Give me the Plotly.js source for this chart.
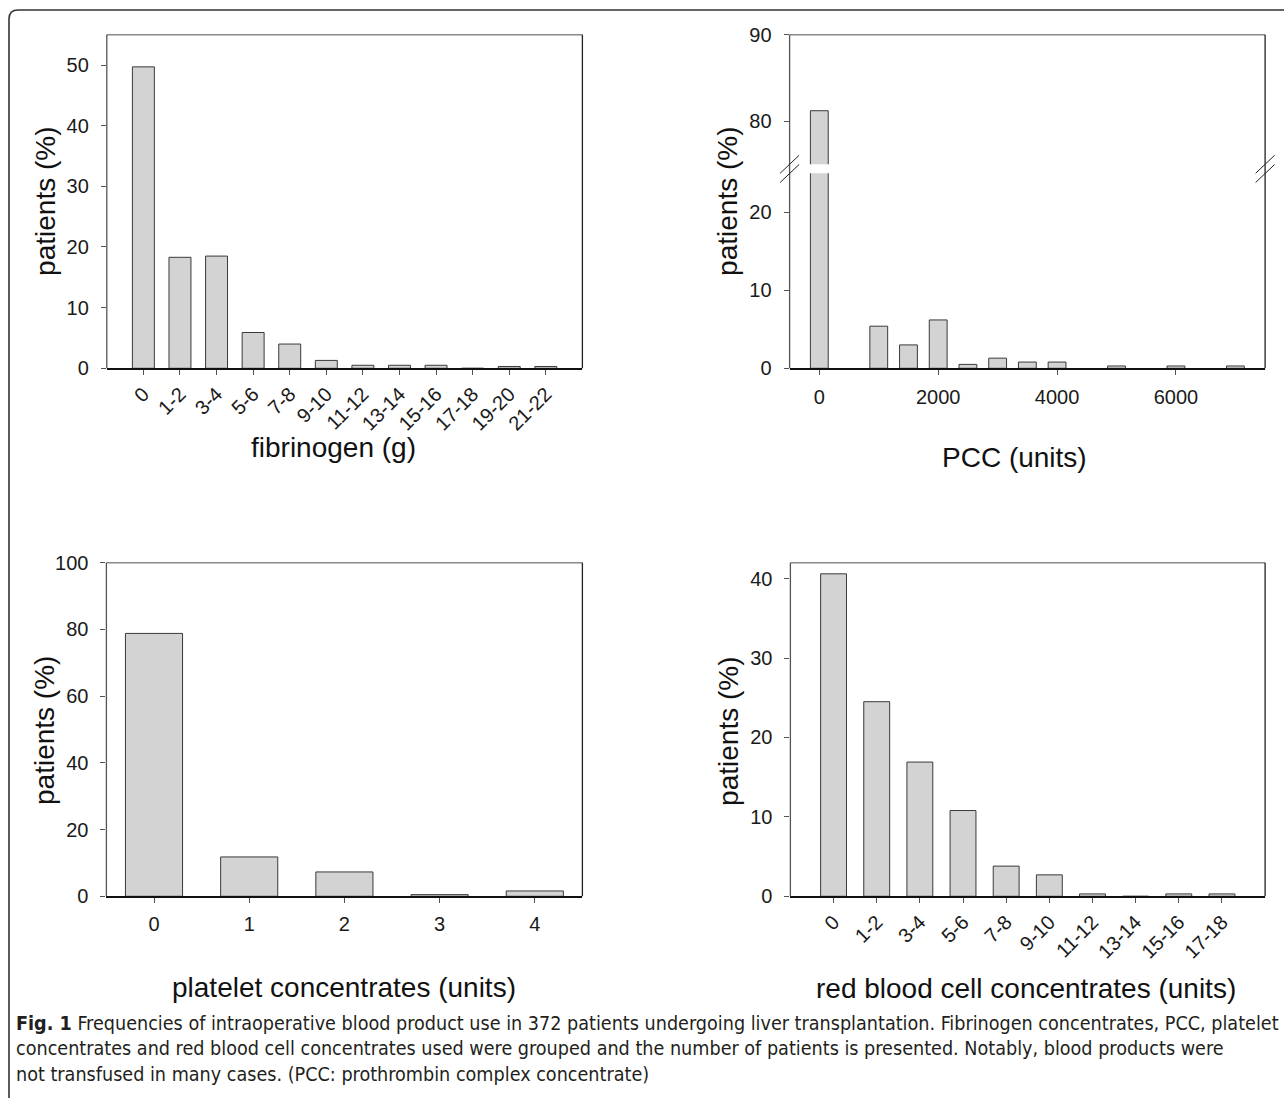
<!DOCTYPE html>
<html>
<head>
<meta charset="utf-8">
<script src="https://cdn.plot.ly/plotly-3.0.1.min.js"></script>
<style>html,body{margin:0;padding:0;background:#fff;}#chart{width:1284px;height:1098px;}</style>
</head>
<body>
<div id="chart"></div>
<script>
// ---- data ----
const fibCats = ['0','1-2','3-4','5-6','7-8','9-10','11-12','13-14','15-16','17-18','19-20','21-22'];
const fibPct = [49.7, 18.3, 18.5, 5.9, 4.0, 1.3, 0.5, 0.5, 0.5, 0, 0.3, 0.3];
const pccUnits = [0, 1000, 1500, 2000, 2500, 3000, 3500, 4000, 5000, 6000, 7000];
const pccPct = [81.2, 5.4, 3.0, 6.2, 0.5, 1.3, 0.8, 0.8, 0.3, 0.3, 0.3];
const pccTicks = [0, 2000, 4000, 6000];
const pltCats = ['0','1','2','3','4'];
const pltPct = [78.8, 11.8, 7.3, 0.5, 1.6];
const rbcCats = ['0','1-2','3-4','5-6','7-8','9-10','11-12','13-14','15-16','17-18'];
const rbcPct = [40.6, 24.5, 16.9, 10.8, 3.8, 2.7, 0.3, 0, 0.3, 0.3];
const yTitle = 'patients (%)';
const xTitles = ['fibrinogen (g)', 'PCC (units)', 'platelet concentrates (units)', 'red blood cell concentrates (units)'];
const captionLines = [
  '<b>Fig. 1</b> Frequencies of intraoperative blood product use in 372 patients undergoing liver transplantation. Fibrinogen concentrates, PCC, platelet',
  'concentrates and red blood cell concentrates used were grouped and the number of patients is presented. Notably, blood products were',
  'not transfused in many cases. (PCC: prothrombin complex concentrate)'
];

// ---- layout helpers (pixel -> paper) ----
const W = 1284, H = 1098;
const px = v => v / W;
const py = v => 1 - v / H;

const FONT = 'Liberation Sans, Arial, sans-serif';
const barStyle = {color: '#d3d3d3', line: {color: '#3a3a3a', width: 1}};

const traces = [
  {type: 'bar', x: fibCats, y: fibPct, xaxis: 'x', yaxis: 'y', marker: barStyle},
  {type: 'bar', x: pccUnits, y: pccPct, xaxis: 'x2', yaxis: 'y2', marker: barStyle},
  {type: 'bar', x: pccUnits, y: pccPct, xaxis: 'x2', yaxis: 'y3', marker: barStyle},
  {type: 'bar', x: pltCats, y: pltPct, xaxis: 'x3', yaxis: 'y4', marker: barStyle},
  {type: 'bar', x: rbcCats, y: rbcPct, xaxis: 'x4', yaxis: 'y5', marker: barStyle}
];

const tickFont = {family: FONT, size: 20, color: '#1a1a1a'};
function xax(d0, d1, anchor, extra) {
  return Object.assign({
    domain: [px(d0), px(d1)], anchor: anchor,
    showgrid: false, zeroline: false,
    showline: true, linecolor: '#111', linewidth: 1.3,
    ticks: 'outside', ticklen: 5, tickcolor: '#555', tickwidth: 1,
    tickfont: tickFont, ticklabelstandoff: 4, fixedrange: true
  }, extra);
}
function yax(top, bottom, anchor, extra) {
  return Object.assign({
    domain: [py(bottom), py(top)], anchor: anchor,
    showgrid: false, zeroline: false, showline: false,
    ticks: 'outside', ticklen: 5, tickcolor: '#555', tickwidth: 1,
    tickfont: tickFont, ticklabelstandoff: 8, fixedrange: true
  }, extra);
}

// frames
const frames = [
  [106.8, 582.4, 34.7, 368.3],
  [789.6, 1265.1, 34.7, 368.3],
  [106.4, 582.4, 562.7, 896.3],
  [790.4, 1265.1, 562.7, 896.3]
];
const shapes = [];
frames.forEach(f => {
  const [l, r, t, b] = f;
  shapes.push({type: 'line', xref: 'paper', yref: 'paper', x0: px(l), x1: px(r), y0: py(t), y1: py(t), line: {color: '#8a8a8a', width: 1.5}});
  shapes.push({type: 'line', xref: 'paper', yref: 'paper', x0: px(l), x1: px(l), y0: py(t), y1: py(b), line: {color: '#555', width: 1.3}});
  shapes.push({type: 'line', xref: 'paper', yref: 'paper', x0: px(r), x1: px(r), y0: py(t), y1: py(b), line: {color: '#222', width: 1.3}});
});
// axis break marks on the PCC panel
[789.6, 1265.1].forEach(ax => {
  [164.3, 173.5].forEach(yc => {
    shapes.push({type: 'line', xref: 'paper', yref: 'paper',
      x0: px(ax - 9.5), y0: py(yc + 9), x1: px(ax + 9.5), y1: py(yc - 9),
      line: {color: '#222', width: 1}});
  });
});
// outer rounded border
shapes.push({type: 'path', xref: 'paper', yref: 'paper',
  path: `M ${px(1300)},${py(10)} L ${px(18)},${py(10)} Q ${px(9)},${py(10)} ${px(9)},${py(19)} L ${px(9)},${py(1110)}`,
  line: {color: '#333', width: 1.6}});

const titleFont = {family: FONT, size: 28, color: '#111'};
const annotations = [
  {text: yTitle, x: px(45.9), y: py(201), textangle: -90},
  {text: yTitle, x: px(727.9), y: py(201), textangle: -90},
  {text: yTitle, x: px(44), y: py(730), textangle: -90},
  {text: yTitle, x: px(727.9), y: py(731), textangle: -90},
  {text: xTitles[0], x: px(334), y: py(447)},
  {text: xTitles[1], x: px(1014), y: py(458)},
  {text: xTitles[2], x: px(344.4), y: py(987)},
  {text: xTitles[3], x: px(1025.8), y: py(988)}
].map(a => Object.assign({xref: 'paper', yref: 'paper', showarrow: false, xanchor: 'center', yanchor: 'middle', font: titleFont}, a));

const capFont = {family: 'Liberation Sans Narrow, DejaVu Sans Condensed, Liberation Sans, sans-serif', size: 19.6, color: '#231f20'};
const capY = [1023, 1048, 1074];
captionLines.forEach((t, i) => {
  annotations.push({text: t, xref: 'paper', yref: 'paper', x: px(14), y: py(capY[i]), xanchor: 'left', yanchor: 'middle', showarrow: false, font: capFont});
});

const layout = {
  width: W, height: H,
  margin: {l: 0, r: 0, t: 0, b: 0},
  paper_bgcolor: '#fff', plot_bgcolor: 'rgba(0,0,0,0)',
  showlegend: false, bargap: 0.4,
  font: {family: FONT},
  xaxis: xax(106.8, 582.4, 'y', {type: 'category', range: [-1, 12], tickangle: -45, ticklabelstandoff: 0}),
  yaxis: yax(34.7, 368.3, 'x', {range: [0, 55], tickvals: [0, 10, 20, 30, 40, 50]}),
  xaxis2: xax(789.6, 1265.1, 'y2', {range: [-500, 7500], tickvals: pccTicks, ticklabelstandoff: 5}),
  yaxis2: yax(173.3, 368.3, 'x2', {range: [0, 25], tickvals: [0, 10, 20]}),
  yaxis3: yax(34.7, 164.3, 'x2', {range: [75, 90], tickvals: [80, 90]}),
  xaxis3: xax(106.4, 582.4, 'y4', {type: 'category', range: [-0.5, 4.5], ticklabelstandoff: 4}),
  yaxis4: yax(562.7, 896.3, 'x3', {range: [0, 100], tickvals: [0, 20, 40, 60, 80, 100]}),
  xaxis4: xax(790.4, 1265.1, 'y5', {type: 'category', range: [-1, 10], tickangle: -45, ticklabelstandoff: 0}),
  yaxis5: yax(562.7, 896.3, 'x4', {range: [0, 42], tickvals: [0, 10, 20, 30, 40]}),
  shapes: shapes,
  annotations: annotations
};

Plotly.newPlot('chart', traces, layout, {staticPlot: true, displayModeBar: false});
</script>
</body>
</html>
